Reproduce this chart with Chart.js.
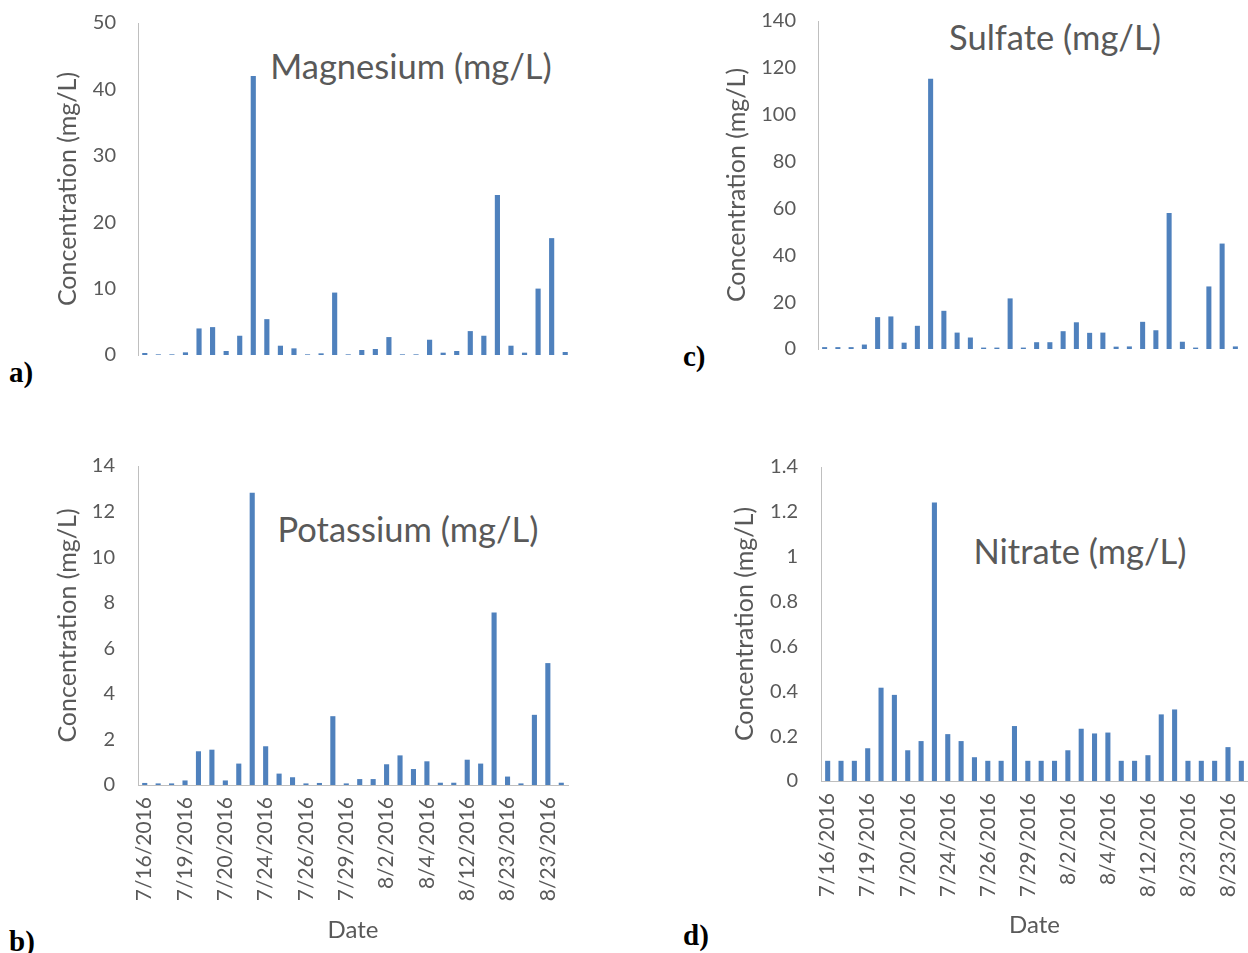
<!DOCTYPE html>
<html><head><meta charset="utf-8">
<script src="https://cdn.jsdelivr.net/npm/chart.js@4"></script>
<style>
html,body{margin:0;padding:0;background:#fff;overflow:hidden;width:1248px;height:953px;position:relative;}
canvas{position:absolute;}
.t{position:absolute;font-family:Lato,sans-serif;color:#595959;white-space:nowrap;transform:translate(-50%,-50%);font-size:34.5px;line-height:1;}
.l{position:absolute;font-family:"Liberation Serif",serif;font-weight:bold;color:#000;font-size:29px;line-height:1;}
</style></head><body>
<div class="t" style="left:411px;top:66px;">Magnesium (mg/L)</div>
<div class="t" style="left:1055px;top:37px;">Sulfate (mg/L)</div>
<div class="t" style="left:408px;top:529px;">Potassium (mg/L)</div>
<div class="t" style="left:1080px;top:551px;">Nitrate (mg/L)</div>
<div class="l" style="left:9px;top:358px;">a)</div>
<div class="l" style="left:683px;top:342px;">c)</div>
<div class="l" style="left:9px;top:927px;">b)</div>
<div class="l" style="left:683px;top:921px;">d)</div>
<script>
const dates = ["7/16/2016","7/17/2016","7/18/2016","7/19/2016","7/19/2016","7/19/2016","7/20/2016","7/20/2016","7/22/2016","7/24/2016","7/24/2016","7/25/2016","7/26/2016","7/27/2016","7/28/2016","7/29/2016","7/30/2016","8/1/2016","8/2/2016","8/2/2016","8/3/2016","8/4/2016","8/5/2016","8/10/2016","8/12/2016","8/16/2016","8/20/2016","8/23/2016","8/23/2016","8/23/2016","8/23/2016","8/24/2016"];
const magnesium = [0.3,0.1,0.1,0.4,4.0,4.2,0.6,2.9,42.0,5.4,1.4,1.0,0.1,0.25,9.4,0.1,0.75,0.9,2.7,0.1,0.1,2.3,0.35,0.6,3.6,2.9,24.1,1.4,0.35,10.0,17.6,0.45];
const sulfate = [0.8,0.8,0.8,1.9,13.6,13.9,2.7,9.9,115.4,16.3,7.0,4.9,0.6,0.6,21.6,0.6,2.9,2.9,7.6,11.4,6.9,7.0,1.0,1.1,11.6,8.0,58.1,3.1,0.6,26.7,45.0,1.1];
const potassium = [0.09,0.07,0.07,0.2,1.48,1.55,0.2,0.94,12.83,1.7,0.5,0.34,0.07,0.09,3.02,0.07,0.26,0.26,0.91,1.3,0.7,1.04,0.1,0.1,1.11,0.94,7.57,0.37,0.07,3.08,5.35,0.1];
const nitrate = [0.09,0.09,0.09,0.146,0.416,0.384,0.137,0.178,1.242,0.209,0.178,0.106,0.09,0.09,0.245,0.09,0.09,0.09,0.137,0.233,0.212,0.216,0.09,0.09,0.115,0.297,0.319,0.09,0.09,0.09,0.151,0.09];
const magnesiumAxis = {max:50, step:10};
const sulfateAxis = {max:140, step:20};
const potassiumAxis = {max:14, step:2};
const nitrateAxis = {max:1.4, step:0.2};
const labelEvery = 3;

const GREY = '#595959';
const AXIS = '#bfbfbf';
const BAR = '#4f81bd';
const FONT = 'Lato';
const TITLE_SIZE = 25, LH = 1.2;

function panel(o){
  const [bx,by,bw,bh] = o.box;
  const c = document.createElement('canvas');
  c.width=bw; c.height=bh;
  c.style.left=bx+'px'; c.style.top=by+'px'; c.style.width=bw+'px'; c.style.height=bh+'px';
  document.body.appendChild(c);
  const half = TITLE_SIZE*LH/2;
  const xHalf = 24*LH/2;
  const yLeft = o.yTitleX - half;
  const hasX = !!o.xTitleY;
  const xBottom = hasX ? o.xTitleY + xHalf : o.area.B;
  new Chart(c,{
    type:'bar',
    data:{labels:dates,datasets:[{data:o.values,backgroundColor:BAR,borderWidth:0,categoryPercentage:1,barPercentage:0.38}]},
    options:{
      responsive:false,animation:false,devicePixelRatio:1,
      layout:{padding:{left:yLeft-bx,top:o.area.T-by,right:bx+bw-o.area.R,bottom:by+bh-xBottom}},
      plugins:{legend:{display:false},tooltip:{enabled:false},title:{display:false}},
      scales:{
        x:{
          display:hasX,
          offset:true,
          grid:{display:false,drawTicks:false},
          border:{display:true,color:AXIS,width:1},
          ticks:{autoSkip:false,minRotation:90,maxRotation:90,padding:o.xPad||12,color:GREY,font:{family:FONT,size:21},
            callback:function(v,i){return i%labelEvery===0?this.getLabelForValue(v):'';}},
          title:{display:hasX,text:'Date',color:GREY,font:{family:FONT,size:24,lineHeight:LH},padding:0},
          afterFit:function(s){ if(hasX){s.height = xBottom - o.area.B;} s.paddingLeft=0; s.paddingRight=0; }
        },
        y:{
          min:0,max:o.axis.max,
          grid:{display:false,drawTicks:false},
          border:{display:true,color:AXIS,width:1},
          ticks:{stepSize:o.axis.step,padding:o.yPad||22,color:GREY,font:{family:FONT,size:20},
            callback:function(v){return String(Number(v.toFixed(2)));}},
          title:{display:true,text:'Concentration (mg/L)',color:GREY,font:{family:FONT,size:TITLE_SIZE,lineHeight:LH},padding:0},
          afterFit:function(s){ s.width = o.area.L - yLeft; s.paddingTop=0; s.paddingBottom=0; }
        }
      }
    }
  });
}

panel({box:[0,0,600,380],area:{L:138,T:23,R:572,B:355},yTitleX:68,values:magnesium,axis:magnesiumAxis});
panel({box:[660,0,588,380],area:{L:818,T:21,R:1242,B:349},yTitleX:737,values:sulfate,axis:sulfateAxis});
panel({box:[0,440,600,513],area:{L:138,T:466,R:568,B:785},yTitleX:68,xTitleY:930,values:potassium,axis:potassiumAxis,yPad:23});
panel({box:[660,440,588,513],area:{L:821,T:467,R:1248,B:781},yTitleX:745,xTitleY:925,values:nitrate,axis:nitrateAxis,yPad:23});
</script>
</body></html>
